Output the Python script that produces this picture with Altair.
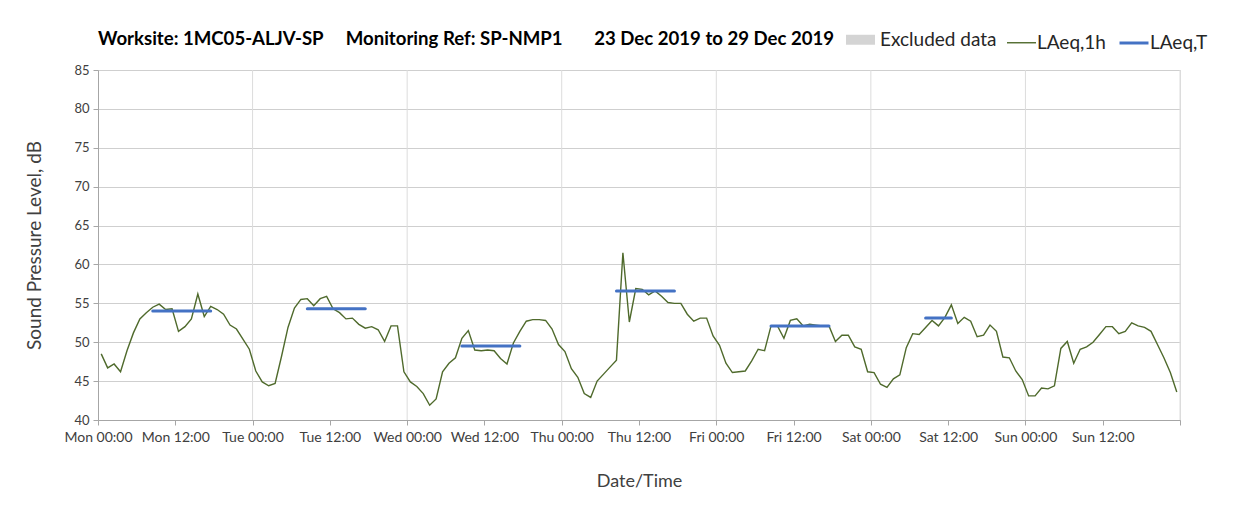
import json
import altair as alt
import pandas as pd

# ---------------- data ----------------
day_names = ["Mon", "Tue", "Wed", "Thu", "Fri", "Sat", "Sun"]
tick_hours = [0, 12, 24, 36, 48, 60, 72, 84, 96, 108, 120, 132, 144, 156, 168]
tick_labels = ["Mon 00:00", "Mon 12:00", "Tue 00:00", "Tue 12:00", "Wed 00:00",
               "Wed 12:00", "Thu 00:00", "Thu 12:00", "Fri 00:00", "Fri 12:00",
               "Sat 00:00", "Sat 12:00", "Sun 00:00", "Sun 12:00", ""]
grid_hours = [24, 48, 72, 96, 120, 144, 168]

# hourly LAeq,1h (168 hours, Mon 00:00 .. Sun 23:00)
laeq_1h = [
    48.5, 46.7, 47.2, 46.2, 48.9, 51.2, 53.0, 53.8, 54.5, 54.9, 54.2, 54.3,
    51.4, 52.0, 53.0, 56.2, 53.3, 54.6, 54.2, 53.6, 52.2, 51.7, 50.4, 49.1,
    46.3, 44.9, 44.4, 44.7, 48.2, 51.9, 54.4, 55.5, 55.6, 54.7, 55.6, 55.9,
    54.3, 53.8, 53.0, 53.1, 52.3, 51.8, 52.0, 51.6, 50.1, 52.1, 52.1, 46.2,
    44.9, 44.3, 43.4, 41.9, 42.7, 46.2, 47.3, 48.0, 50.5, 51.5, 49.0, 48.9,
    49.0, 48.9, 47.9, 47.2, 49.9, 51.4, 52.7, 52.9, 52.9, 52.8, 51.7, 49.7,
    48.8, 46.6, 45.5, 43.4, 42.9, 45.0, 45.9, 46.8, 47.7, 61.5, 52.6, 56.9,
    56.8, 56.1, 56.6, 55.9, 55.1, 55.0, 55.0, 53.6, 52.7, 53.1, 53.1, 50.8,
    49.6, 47.3, 46.1, 46.2, 46.3, 47.6, 49.1, 48.9, 52.1, 52.1, 50.5, 52.8,
    53.0, 52.1, 52.3, 52.2, 52.1, 52.1, 50.1, 50.9, 50.9, 49.4, 49.1, 46.2,
    46.1, 44.6, 44.2, 45.3, 45.8, 49.3, 51.1, 51.0, 51.9, 52.8, 52.1, 53.2,
    54.8, 52.4, 53.2, 52.7, 50.7, 50.9, 52.2, 51.4, 48.1, 48.0, 46.3, 45.2,
    43.1, 43.1, 44.1, 44.0, 44.4, 49.2, 50.1, 47.3, 49.1, 49.4, 50.0, 51.0,
    52.0, 52.0, 51.1, 51.4, 52.5, 52.1, 51.9, 51.4, 49.7, 48.0, 46.1, 43.6,
]

# LAeq,T periods (hour index of first / last hourly value, level)
laeq_t_start = [8, 32, 56, 80, 104, 128]
laeq_t_end = [17, 41, 65, 89, 113, 132]
laeq_t_value = [54.0, 54.3, 49.5, 56.6, 52.1, 53.1]

series_names = ["Excluded data", "LAeq,1h", "LAeq,T"]
series_colors = ["#d4d4d4", "#4f6a2c", "#4472c4"]
series_widths = [10, 1.4, 3]

# ---------------- tables ----------------
df_h = pd.DataFrame({
    "t": [h + 0.5 for h in range(len(laeq_1h))],
    "level": laeq_1h,
    "series": "LAeq,1h",
})
rows = []
for i, (s, e, v) in enumerate(zip(laeq_t_start, laeq_t_end, laeq_t_value)):
    rows.append({"t": s + 0.5, "level": v, "series": "LAeq,T", "period": i})
    rows.append({"t": e + 0.5, "level": v, "series": "LAeq,T", "period": i})
df_t = pd.DataFrame(rows)
df_grid = pd.DataFrame({"t": grid_hours})

label_map = json.dumps(dict(zip([str(h) for h in tick_hours], tick_labels)))
label_expr = f"{label_map}[''+datum.value]"

FONT = "Lato"

x_scale = alt.Scale(domain=[0, 168], nice=False, zero=False)
y_scale = alt.Scale(domain=[40, 85], nice=False, zero=False)

x_axis = alt.Axis(
    values=tick_hours, labelExpr=label_expr, grid=False, labelOverlap=False,
    labelFlush=False,
    title="Date/Time", titleFont=FONT, titleFontSize=18, titleFontWeight="normal",
    titleColor="#404040", titlePadding=28,
    labelFont=FONT, labelFontSize=14, labelColor="#404040", labelPadding=5,
    tickColor="#a6a6a6", tickSize=5, domainColor="#a6a6a6",
)
y_axis = alt.Axis(
    values=[40, 45, 50, 55, 60, 65, 70, 75, 80, 85],
    title="Sound Pressure Level, dB", titleFont=FONT, titleFontSize=19,
    titleFontWeight="normal", titleColor="#404040", titlePadding=29,
    labelFont=FONT, labelFontSize=13, labelColor="#404040", labelPadding=4,
    tickColor="#a6a6a6", tickSize=5, domainColor="#a6a6a6",
    gridColor="#cfcfcf", gridWidth=1,
)


def make_legend():
    return alt.Legend(
        title=None, orient="none", direction="horizontal", legendX=743, legendY=-50,
        labelFont=FONT, labelFontSize=19, labelColor="#262626",
        symbolType="stroke", symbolSize=841, labelOffset=0, columnPadding=7,
    )


color = alt.Color("series:N", scale=alt.Scale(domain=series_names, range=series_colors),
                  legend=make_legend())
width = alt.StrokeWidth("series:N",
                        scale=alt.Scale(type="ordinal", domain=series_names, range=series_widths),
                        legend=make_legend())

grid = alt.Chart(df_grid).mark_rule(color="#dcdcdc", strokeWidth=1).encode(
    x=alt.X("t:Q", scale=x_scale, axis=x_axis),
    y=alt.value(0), y2=alt.value(350),
)

line_h = alt.Chart(df_h).mark_line().encode(
    x=alt.X("t:Q", scale=x_scale, axis=x_axis),
    y=alt.Y("level:Q", scale=y_scale, axis=y_axis),
    color=color, strokeWidth=width,
)

line_t = alt.Chart(df_t).mark_line(strokeCap="round").encode(
    x=alt.X("t:Q", scale=x_scale, axis=x_axis),
    y=alt.Y("level:Q", scale=y_scale, axis=y_axis),
    color=color, strokeWidth=width, detail="period:N",
)

title_text = ("Worksite: 1MC05-ALJV-SP\u00a0\u00a0\u00a0\u00a0\u00a0Monitoring Ref: SP-NMP1"
              "\u00a0\u00a0\u00a0\u00a0\u00a0\u00a0\u00a023 Dec 2019 to 29 Dec 2019")

chart = alt.layer(grid, line_h, line_t).properties(
    width=1082, height=350,
    title=alt.TitleParams(title_text, anchor="start", frame="group", font=FONT,
                          fontSize=18.6, fontWeight="bold", color="#000000",
                          baseline="middle", offset=7, dy=45),
    autosize=alt.AutoSizeParams(type="none"),
    padding={"left": 90, "top": 62, "right": 55, "bottom": 85},
).configure_view(stroke=None).configure(background="white")

chart.save("out.html", embed_options={"renderer": "svg", "actions": False})
